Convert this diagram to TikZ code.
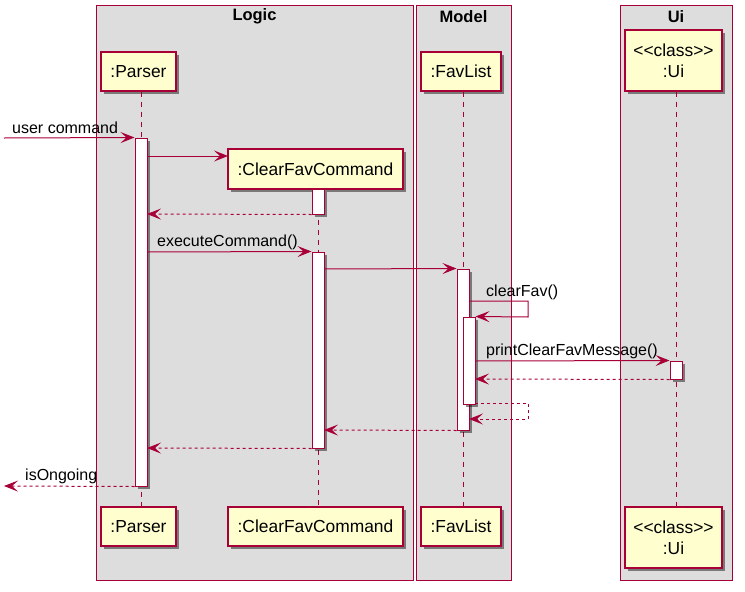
\documentclass[tikz,border=0pt]{standalone}
\usepackage{fontspec}
\setmainfont{Liberation Sans}
\usetikzlibrary{arrows.meta,shadows}

\definecolor{umlred}{HTML}{A80036}
\definecolor{partfill}{HTML}{FEFECE}
\definecolor{boxgrey}{HTML}{DDDDDD}

\begin{document}
\begin{tikzpicture}[x=1pt, y=-1pt,
  shade/.style={drop shadow={shadow xshift=3pt, shadow yshift=-3pt, opacity=0.45, fill=black}},
  part/.style={draw=umlred, line width=1.5pt, fill=partfill, inner sep=0pt, align=center,
    font=\fontsize{17.4}{21}\selectfont, shade},
  actbar/.style={draw=umlred, line width=1pt, fill=white, inner sep=0pt, minimum width=12pt, shade},
  life/.style={umlred, line width=1pt, dash pattern=on 5pt off 5pt},
  frame/.style={draw=umlred, line width=1pt, fill=boxgrey},
  title/.style={font=\fontsize{16.5}{20}\selectfont\bfseries},
  msg/.style={umlred, line width=1pt, -{Stealth[length=14pt,width=11pt,inset=6pt]}},
  ret/.style={msg, dash pattern=on 3pt off 3pt},
  lbl/.style={font=\fontsize{16}{19}\selectfont, inner sep=0pt, anchor=base west}]

\useasboundingbox (0,0) rectangle (745,592);

% ── Boxes ──
\draw[frame] (96,5) rectangle (413,580);
\draw[frame] (416,5) rectangle (511,580);
\draw[frame] (620,5) rectangle (732,580);
\node[title] (logicT) at (254.5,16.5) {Logic};
\node[title] (modelT) at (463.5,16.5) {Model};
\node[title] (uiT) at (676,16.5) {Ui};

% ── Participants ──
\node[part, minimum width=75pt, minimum height=39pt] (parserTop) at (138.5,71.5) {:Parser};
\node[part, minimum width=175pt, minimum height=40pt] (cfTop) at (315.5,169) {:ClearFavCommand};
\node[part, minimum width=80pt, minimum height=39pt] (favTop) at (461,71.5) {:FavList};
\node[part, minimum width=97pt, minimum height=61pt] (uiTop) at (673.5,60.5) {<\kern0pt<class>\kern0pt>\\:Ui};

\node[part, minimum width=75pt, minimum height=39pt] (parserBot) at (138.5,526.5) {:Parser};
\node[part, minimum width=175pt, minimum height=39pt] (cfBot) at (315.5,526.5) {:ClearFavCommand};
\node[part, minimum width=80pt, minimum height=39pt] (favBot) at (461,526.5) {:FavList};
\node[part, minimum width=97pt, minimum height=61pt] (uiBot) at (673.5,537.5) {<\kern0pt<class>\kern0pt>\\:Ui};

% Lifelines
\coordinate (parserX) at (141,0);
\coordinate (cfX) at (318,0);
\coordinate (favX) at (463,0);
\coordinate (uiX) at (676,0);
\draw[life] (parserX |- parserTop.south) -- (parserX |- parserBot.north);
\draw[life] (cfX |- cfTop.south) -- (cfX |- cfBot.north);
\draw[life] (favX |- favTop.south) -- (favX |- favBot.north);
\draw[life] (uiX |- uiTop.south) -- (uiX |- uiBot.north);

% ── Activations ──
\node[actbar, minimum height=348pt] (parserAct) at (141,312) {};
\node[actbar, minimum height=25pt] (cfAct1) at (318,201.5) {};
\node[actbar, minimum height=196pt] (cfAct2) at (318,350) {};
\node[actbar, minimum height=161pt] (favAct) at (463,349.5) {};
\node[actbar, minimum height=87pt] (favAct2) at (469,360.5) {};
\node[actbar, minimum height=18pt] (uiAct) at (676,370) {};

% ── Messages ──
\coordinate (userIn) at (4,138);
\coordinate (userOut) at (4,486);
\coordinate (createS) at (147,156);
\coordinate (createE) at (228,156);
\coordinate (backA) at (147,214);
\coordinate (execS) at (147,252);
\coordinate (favS) at (324,269);
\coordinate (clearS) at (469,301);
\coordinate (clearR) at (528,301);
\coordinate (clearD) at (528,317);
\coordinate (printS) at (475,361);
\coordinate (uiBack) at (475,379);
\coordinate (selfS) at (475,403);
\coordinate (selfR) at (528,403);
\coordinate (selfD) at (528,419);
\coordinate (selfE) at (469,419);
\coordinate (favBack) at (324,430);
\coordinate (cfBack) at (147,448);

\draw[msg] (userIn) -- (parserAct.north west);
\node[lbl] (userL) at (12,133) {user command};

\draw[msg] (createS) -- (createE);
\draw[ret] (cfAct1.south west) -- (backA);

\draw[msg] (execS) -- (cfAct2.north west);
\node[lbl] (execL) at (157,246) {executeCommand()};

\draw[msg] (favS) -- (favAct.north west);

\draw[msg] (clearS) -- (clearR) -- (clearD) -- (favAct2.north east);
\node[lbl] (clearL) at (486,296) {clearFav()};

\draw[msg] (printS) -- (uiAct.north west);
\node[lbl] (printL) at (486,355) {printClearFavMessage()};
\draw[ret] (uiAct.south west) -- (uiBack);

\draw[ret] (selfS) -- (selfR) -- (selfD) -- (selfE);
\draw[ret] (favAct.south west) -- (favBack);
\draw[ret] (cfAct2.south west) -- (cfBack);

\draw[ret] (parserAct.south west) -- (userOut);
\node[lbl] (ongoingL) at (25,480) {isOngoing};

\end{tikzpicture}
\end{document}
